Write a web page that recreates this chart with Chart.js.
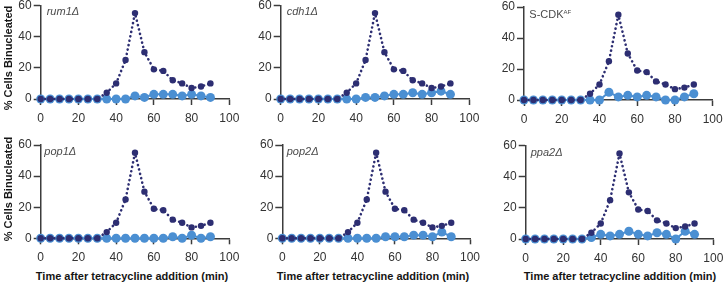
<!DOCTYPE html>
<html>
<head>
<meta charset="utf-8">
<script src="https://cdn.jsdelivr.net/npm/chart.js@4.4.1/dist/chart.umd.min.js"></script>
<style>
  body { margin: 0; background: #fff; }
  #fig { position: relative; width: 723px; height: 283px; overflow: hidden; font-family: "Liberation Sans", Arial, sans-serif; }
  #fig canvas { position: absolute; }
  .lbl { position: absolute; font-size: 11px; line-height: 12px; color: #4a4a4a; font-style: italic; white-space: nowrap; }
  .lbl.up { font-style: normal; }
  .lbl sup { font-size: 6px; vertical-align: 4px; }
  .xt { position: absolute; font-size: 11px; line-height: 12px; font-weight: bold; color: #151515; white-space: nowrap; transform: translateX(-50%); }
  .yt { position: absolute; font-size: 11px; line-height: 12px; font-weight: bold; color: #151515; white-space: nowrap; transform: translate(-50%, -50%) rotate(-90deg); }
</style>
</head>
<body>
<div id="fig">
  <canvas id="c1"></canvas><canvas id="c2"></canvas><canvas id="c3"></canvas>
  <canvas id="c4"></canvas><canvas id="c5"></canvas><canvas id="c6"></canvas>

  <div class="lbl" style="left:46.7px; top:5px">rum1Δ</div>
  <div class="lbl" style="left:286.7px; top:5px">cdh1Δ</div>
  <div class="lbl up" style="left:529.3px; top:5.7px">S-CDK<sup>AF</sup></div>
  <div class="lbl" style="left:44.3px; top:145px">pop1Δ</div>
  <div class="lbl" style="left:286.7px; top:144.5px">pop2Δ</div>
  <div class="lbl" style="left:530.7px; top:145.5px">ppa2Δ</div>

  <div class="yt" style="left:7.5px; top:57.5px">% Cells Binucleated</div>
  <div class="yt" style="left:7.5px; top:188.5px">% Cells Binucleated</div>
  <div class="xt" style="left:132px; top:270px">Time after tetracycline addition (min)</div>
  <div class="xt" style="left:373px; top:270px">Time after tetracycline addition (min)</div>
  <div class="xt" style="left:620px; top:270px">Time after tetracycline addition (min)</div>
</div>

<script>
// Data
const minutes = [0, 5, 10, 15, 20, 25, 30, 35, 40, 45, 50, 55, 60, 65, 70, 75, 80, 85, 90];
const control = [0, 0, 0, 0, 0, 0, 0, 4, 10, 25, 55, 30, 19, 18, 12, 10, 7, 8, 10];
const rum1 = [0, 0, 0, 0, 0, 0, 0, 0, 0, 0, 2, 1, 3, 3, 3, 2, 3, 2, 1];
const cdh1 = [0, 0, 0, 0, 0, 0, 0, 0, 0, 1, 1, 2, 3, 3, 4, 3, 4, 5, 3];
const scdkAF = [0, 0, 0, 0, 0, 0, 0, 0, 0, 5, 2, 3, 2, 3, 2, 0, 0, 2, 4];
const pop1 = [0, 0, 0, 0, 0, 0, 0, 0, 0, 0, 0, 0, 0, 0, 1, 0, 2, 0, 1];
const pop2 = [0, 0, 0, 0, 0, 0, 0, 0, 0, 0, 0, 1, 1, 1, 2, 2, 1, 4, 1];
const ppa2 = [0, 0, 0, 0, 0, 0, 0, 1, 3, 2, 3, 5, 3, 2, 4, 3, 0, 5, 3];

const xTicks = [0, 20, 40, 60, 80, 100];
const yTicks = [0, 20, 40, 60];

// Colours
const dark = "#2d2e72";
const light = "#4b8fd2";
const axisColor = "#3c3c3c";

Chart.defaults.font.family = "'Liberation Sans', Arial, sans-serif";
Chart.defaults.font.size = 12;
Chart.defaults.color = "#333";

// canvas box and plot area (page pixels) for each panel
const panels = [
  { id: "c1", series: rum1,   box: [0, 0, 240, 130],   area: [40.7, 5.3, 229.3, 99] },
  { id: "c2", series: cdh1,   box: [240, 0, 240, 130], area: [280.7, 5.3, 469.3, 99] },
  { id: "c3", series: scdkAF, box: [480, 0, 243, 130], area: [524, 7, 712.7, 100] },
  { id: "c4", series: pop1,   box: [0, 130, 240, 135], area: [40.7, 145, 229.3, 238.3] },
  { id: "c5", series: pop2,   box: [240, 130, 240, 135], area: [282.3, 145, 470, 238.3] },
  { id: "c6", series: ppa2,   box: [480, 130, 243, 135], area: [525.7, 145.7, 713.3, 239] },
];

function toPoints(vals) {
  return vals.map((v, i) => ({ x: minutes[i], y: v }));
}

panels.forEach(p => {
  const [bx, by, bw, bh] = p.box;
  const [l, t, r, b] = p.area;
  const cv = document.getElementById(p.id);
  cv.width = bw; cv.height = bh;
  cv.style.left = bx + "px"; cv.style.top = by + "px";

  new Chart(cv, {
    type: "line",
    data: {
      datasets: [
        {
          data: toPoints(control),
          borderColor: dark, backgroundColor: dark,
          borderWidth: 2.6, borderDash: [0.1, 4.4], borderCapStyle: "round",
          pointRadius: 3.2, pointBorderWidth: 0, tension: 0, clip: false
        },
        {
          data: toPoints(p.series),
          borderColor: light, backgroundColor: light,
          borderWidth: 2, pointRadius: 4.5, pointBorderWidth: 0, tension: 0, clip: false
        }
      ]
    },
    options: {
      responsive: false, animation: false, devicePixelRatio: 1,
      layout: { autoPadding: false, padding: { left: 0, top: t - by, right: bx + bw - r, bottom: 0 } },
      plugins: { legend: { display: false }, tooltip: { enabled: false } },
      scales: {
        x: {
          type: "linear", min: 0, max: 100,
          afterBuildTicks: s => { s.ticks = xTicks.map(v => ({ value: v })); },
          afterFit: s => { s.height = by + bh - b; s.paddingLeft = 0; s.paddingRight = 0; },
          ticks: { padding: 6, maxRotation: 0 },
          grid: { drawOnChartArea: false, tickLength: 6, tickColor: axisColor, tickWidth: 1.5 },
          border: { color: axisColor, width: 1.5 }
        },
        y: {
          min: 0, max: 60,
          afterBuildTicks: s => { s.ticks = yTicks.map(v => ({ value: v })); },
          afterFit: s => { s.width = l - bx; s.paddingTop = 0; s.paddingBottom = 0; },
          ticks: { padding: 2 },
          grid: { drawOnChartArea: false, tickLength: 7, tickColor: axisColor, tickWidth: 1.5 },
          border: { color: axisColor, width: 1.5 }
        }
      }
    }
  });
});
</script>
</body>
</html>
